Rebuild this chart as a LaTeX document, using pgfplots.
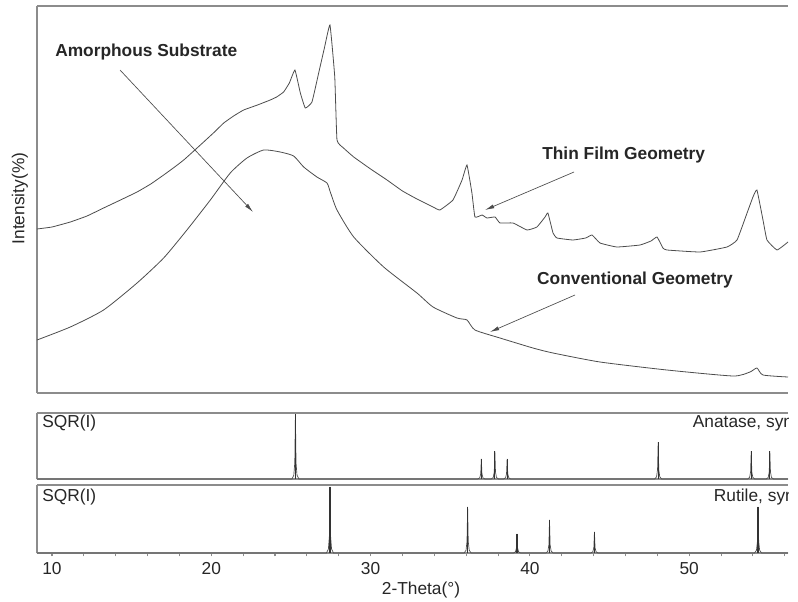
\documentclass[border=0pt]{standalone}
\usepackage{fontspec}
\setmainfont{Liberation Sans}
\usepackage{pgfplots}
\pgfplotsset{compat=1.18}
\usetikzlibrary{arrows.meta}

\definecolor{frame}{gray}{0.55}
\definecolor{trace}{gray}{0.3}

\pgfplotsset{
  xrd/.style={scale only axis, width=563.25pt, xmin=9.06, xmax=56.2,
    axis x line*=box, axis y line*=left,
    axis line style={frame, line width=1pt},
    xtick=\empty, ytick=\empty, anchor=north west},
}
\tikzset{
  lbl/.style={font=\fontsize{13}{15}\selectfont, text=black!85, inner sep=0pt},
  ann/.style={font=\bfseries\fontsize{13}{15}\selectfont, text=black!85, inner sep=0pt},
  arr/.style={-{Latex[length=7pt,width=3pt]}, trace, line width=0.5pt},
}

\begin{document}
\begin{tikzpicture}
% measured pattern, thin film and conventional geometry
\begin{axis}[xrd, name=main, at={(0pt,0pt)}, height=290.25pt, ymin=0, ymax=387]
\addplot[trace, line width=0.6pt, smooth, tension=0.2] coordinates {
(9.06,164) (10.0,166) (11.15,171) (12.2,177) (13.24,185) (14.3,193) (15.34,201)
(16.2,209) (17.01,218) (17.7,226) (18.27,233) (18.9,242) (19.52,251) (20.2,261)
(20.78,270) (21.4,277) (22.03,283) (22.9,288) (23.70,293) (24.1,296) (24.54,301)
(24.9,310) (25.25,323) (25.59,300) (25.90,285) (26.32,291) (26.74,320) (27.1,345)
(27.45,368) (27.75,316) (27.89,253) (28.3,245) (28.94,236) (30.0,224) (31.03,213)
(32.0,202) (32.91,194) (33.92,186) (34.35,183) (35.17,193) (35.74,213) (36.05,228)
(36.36,200) (36.55,176) (37.0,178) (37.30,175) (37.81,176) (38.12,170) (38.94,170)
(39.82,163) (40.44,166) (40.95,176) (41.13,180) (41.45,160) (41.70,155) (42.70,153)
(43.5,155) (43.90,158) (44.40,150) (45.46,146) (46.91,148) (47.6,152) (47.98,156)
(48.35,145) (48.60,143) (50.68,141) (52.37,146) (53.00,153) (53.63,180) (54.0,196)
(54.25,203) (54.63,173) (54.88,153) (55.51,143) (56.2,151)};
\addplot[trace, line width=0.6pt, smooth, tension=0.35] coordinates {
(9.06,53) (11.15,66) (13.24,83) (15.34,110) (17.01,135) (18.47,163) (19.94,193)
(21.19,220) (22.24,235) (23.29,243) (24.33,241) (25.17,237) (25.80,226) (26.63,216)
(27.26,210) (27.47,201) (27.89,183) (28.94,156) (30.82,126) (32.91,100) (33.92,86)
(35.42,75) (36.05,73) (36.55,63) (38.12,55) (40.19,45) (41.45,40) (44.40,31)
(48.60,23) (52.75,17) (53.81,21) (54.25,25) (54.63,18) (56.2,16)};
\node[ann, anchor=west] at (10.19,341) {Amorphous Substrate};
\draw[arr] (14.27,323) -- (22.62,181);
\node[ann, anchor=west] at (40.76,238) {Thin Film Geometry};
\draw[arr] (42.77,221) -- (37.18,183);
\node[ann, anchor=west] at (40.44,113) {Conventional Geometry};
\draw[arr] (42.83,98) -- (37.49,61);
\end{axis}

% anatase reference
\begin{axis}[xrd, name=anat, at={(0pt,-305.25pt)}, height=49.5pt, ymin=0, ymax=102]
\addplot[trace, line width=0.5pt] coordinates {
(9.06,0)
(25.06,0) (25.18,6) (25.24,25) (25.28,100) (25.32,25) (25.38,6) (25.50,0)
(36.73,0) (36.85,1.9) (36.91,7.8) (36.95,31) (36.99,7.8) (37.05,1.9) (37.17,0)
(37.58,0) (37.70,2.6) (37.76,10.8) (37.80,43) (37.84,10.8) (37.90,2.6) (38.02,0)
(38.35,0) (38.47,1.9) (38.53,7.8) (38.57,31) (38.61,7.8) (38.67,1.9) (38.79,0)
(47.83,0) (47.95,3.4) (48.01,14.3) (48.05,57) (48.09,14.3) (48.15,3.4) (48.27,0)
(53.67,0) (53.79,2.6) (53.85,10.8) (53.89,43) (53.93,10.8) (53.99,2.6) (54.11,0)
(54.84,0) (54.96,2.6) (55.02,10.8) (55.06,43) (55.10,10.8) (55.16,2.6) (55.28,0)
(56.2,0)};
\addplot[ycomb, black!80, line width=0.9pt] coordinates {
(25.28,100) (36.95,31) (37.80,43) (38.57,31) (48.05,57) (53.89,43) (55.06,43)};
\node[lbl, anchor=west] at (rel axis cs:0.0067,0.848) {SQR(I)};
\node[lbl, anchor=west] at (rel axis cs:0.873,0.848) {Anatase, syn};
\end{axis}

% rutile reference
\begin{axis}[xrd, name=rut, at={(0pt,-359.25pt)}, height=51pt, ymin=0, ymax=103,
  xtick={10,20,30,40,50}, minor xtick={12,14,16,18,22,24,26,28,32,34,36,38,42,44,46,48,52,54,56},
  xtick pos=bottom, tick align=outside,
  major tick length=2.5pt, minor tick length=2.5pt,
  every tick/.style={frame, line width=0.8pt},
  /pgf/number format/assume math mode=true,
  xticklabel style={font=\fontsize{13}{15}\selectfont, text=black!85, yshift=-1pt}]
\addplot[trace, line width=0.5pt] coordinates {
(9.06,0)
(27.23,0) (27.35,6) (27.41,25) (27.45,100) (27.49,25) (27.55,6) (27.67,0)
(35.87,0) (35.99,4.2) (36.05,17.5) (36.09,70) (36.13,17.5) (36.19,4.2) (36.31,0)
(38.97,0) (39.09,1.7) (39.15,7.3) (39.19,29) (39.23,7.3) (39.29,1.7) (39.41,0)
(41.01,0) (41.13,3) (41.19,12.5) (41.23,50) (41.27,12.5) (41.33,3) (41.45,0)
(43.83,0) (43.95,1.9) (44.01,8) (44.05,32) (44.09,8) (44.15,1.9) (44.27,0)
(54.10,0) (54.22,4.2) (54.28,17.5) (54.32,70) (54.36,17.5) (54.42,4.2) (54.54,0)
(56.2,0)};
\addplot[ycomb, black!80, line width=0.9pt] coordinates {
(27.45,100) (36.09,70) (39.19,29) (41.23,50) (44.05,32) (54.32,70)};
\node[lbl, anchor=west] at (rel axis cs:0.0067,0.824) {SQR(I)};
\node[lbl, anchor=west] at (rel axis cs:0.901,0.824) {Rutile, syn};
\end{axis}

\node[lbl] at (288pt,-438pt) {2-Theta(°)};
\node[lbl, rotate=90] at (-12.75pt,-144.4pt) {Intensity(\%)};

\pgfresetboundingbox
\path (-27.75pt,4.5pt) rectangle (570.75pt,-447pt);
\end{tikzpicture}
\end{document}
